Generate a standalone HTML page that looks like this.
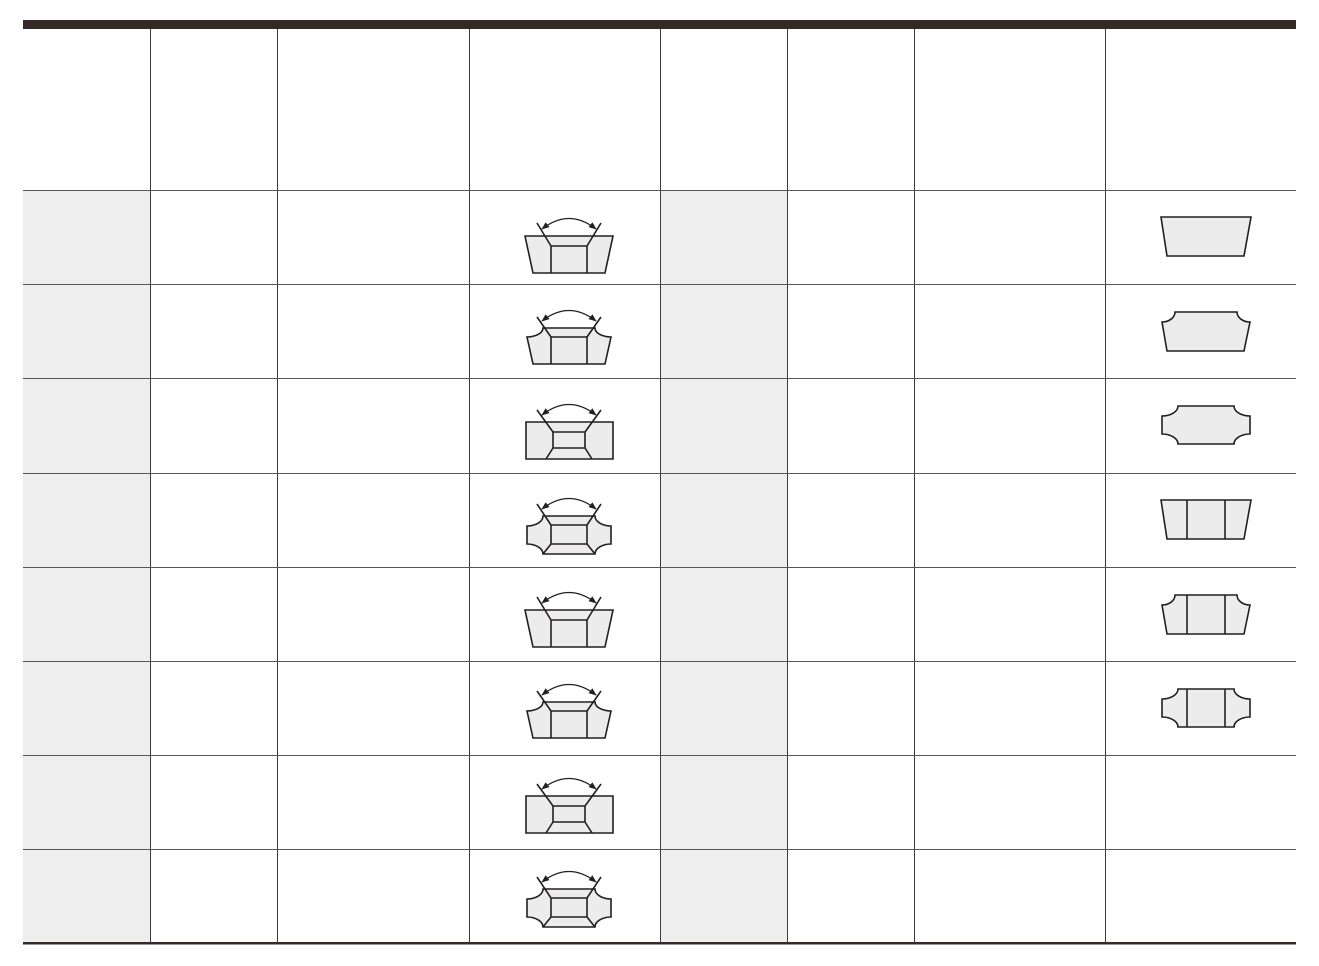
<!DOCTYPE html>
<html><head><meta charset="utf-8"><style>
html,body{margin:0;padding:0;background:#fff;width:1319px;height:966px;overflow:hidden}
svg{display:block}
</style></head><body>
<svg id="tbl" width="1319" height="966" viewBox="0 0 1319 966" xmlns="http://www.w3.org/2000/svg">
<defs>
<marker id="ah" viewBox="0 0 10 10" refX="9" refY="5" markerWidth="8" markerHeight="6" orient="auto-start-reverse"><path d="M0,1 L10,5 L0,9 Z" fill="#231f20"/></marker>
</defs>
<g id="bg"></g>
<g id="lines"></g>
<g id="icons"></g>
</svg>
<script>
const colX=[23,150,277,469,660,787,914,1105,1296];
const rowY=[190,284,378,473,567,661,755,849,943];
const shadedCols=[0,4];
const col4Types=['A','B','C','D','A','B','C','D'];
const col8Types=['T','N','DN','TV','NV','DNV'];
const NS='http://www.w3.org/2000/svg';
const ST='#231f20',FILL='#ececec';
function el(tag,attrs,parent){const e=document.createElementNS(NS,tag);for(const k in attrs)e.setAttribute(k,attrs[k]);parent.appendChild(e);return e;}
const bg=document.getElementById('bg'),ln=document.getElementById('lines'),ic=document.getElementById('icons');
shadedCols.forEach(c=>{
  const r=el('rect',{x:colX[c],y:rowY[0],width:colX[c+1]-colX[c],height:rowY[8]-rowY[0],fill:'#eeeeee'},bg);
  
  
});
let t=el('rect',{x:23,y:20,width:1273,height:9,fill:'#332a28'},ln);


let b=el('rect',{x:23,y:942,width:1273,height:2.5,fill:'#332a28'},ln);


for(let i=1;i<colX.length-1;i++){
  const l=el('line',{x1:colX[i]+0.5,y1:29,x2:colX[i]+0.5,y2:943,stroke:'#3a3a3a','stroke-width':1},ln);
  
  
}
for(let i=0;i<rowY.length-1;i++){
  const l=el('line',{x1:23,y1:rowY[i]+0.5,x2:1296,y2:rowY[i]+0.5,stroke:'#555','stroke-width':1},ln);
  
  
}
function path(d,fill,g){return el('path',{d:d,fill:fill||'none',stroke:ST,'stroke-width':1.6,'stroke-linejoin':'miter'},g);}
function arc(T,g){
  el('path',{d:`M542,${T-7} Q569,${T-28} 596,${T-7}`,fill:'none',stroke:ST,'stroke-width':1.3,'marker-start':'url(#ah)','marker-end':'url(#ah)'},g);
}
function col4(type,r){
  const g=el('g',{},ic);
  
  
  const adj=r>=4?-3:0;
  const top=rowY[r];
  if(type==='A'){const T=top+46+adj,B=T+37;
    path(`M525,${T} L613,${T} L605,${B} L533,${B} Z`,FILL,g);
    path(`M551,${T+10} L587,${T+10} M551,${T+10} L551,${B} M587,${T+10} L587,${B} M551,${T+10} L537,${T-13} M587,${T+10} L601,${T-13}`,null,g);arc(T,g);}
  if(type==='B'){const T=top+44+adj,B=T+36;
    path(`M527,${T+9} A16,9 0 0 0 543,${T} L595,${T} A16,9 0 0 0 611,${T+9} L605,${B} L533,${B} Z`,FILL,g);
    path(`M551,${T+9} L587,${T+9} M551,${T+9} L551,${B} M587,${T+9} L587,${B} M551,${T+9} L537,${T-11} M587,${T+9} L601,${T-11}`,null,g);arc(T,g);}
  if(type==='C'){const T=top+44+adj,B=T+37;
    path(`M526,${T} L613,${T} L613,${B} L526,${B} Z`,FILL,g);
    path(`M553,${T+10} L585,${T+10} L585,${T+26} L553,${T+26} Z M553,${T+10} L537,${T-12} M585,${T+10} L601,${T-12} M553,${T+26} L546,${B} M585,${T+26} L592,${B}`,null,g);arc(T,g);}
  if(type==='D'){const T=top+43+adj,B=T+38;
    path(`M527,${T+10} A16,10 0 0 0 543,${T} L595,${T} A16,10 0 0 0 611,${T+10} L611,${T+28} A16,10 0 0 0 595,${B} L543,${B} A16,10 0 0 0 527,${T+28} Z`,FILL,g);
    path(`M551,${T+9} L587,${T+9} L587,${T+28} L551,${T+28} Z M551,${T+9} L537,${T-12} M587,${T+9} L601,${T-12} M551,${T+28} L543,${B} M587,${T+28} L595,${B}`,null,g);arc(T,g);}
}
function col8(type,r){
  const g=el('g',{},ic);
  
  
  const top=rowY[r];
  const v=type.endsWith('V');const base=v?type.slice(0,-1):type;
  let T,B;
  if(base==='T'){T=top+27;B=T+39;path(`M1161,${T} L1251,${T} L1244,${B} L1167,${B} Z`,FILL,g);}
  if(base==='N'){T=top+28;B=T+39;path(`M1162,${T+10} A13,10 0 0 0 1175,${T} L1237,${T} A13,10 0 0 0 1250,${T+10} L1244,${B} L1167,${B} Z`,FILL,g);}
  if(base==='DN'){T=top+28;B=T+38;path(`M1162,${T+10} A16,10 0 0 0 1178,${T} L1234,${T} A16,10 0 0 0 1250,${T+10} L1250,${T+28} A16,10 0 0 0 1234,${B} L1178,${B} A16,10 0 0 0 1162,${T+28} Z`,FILL,g);}
  if(v)path(`M1187,${T} L1187,${B} M1225,${T} L1225,${B}`,null,g);
}
col4Types.forEach((tp,i)=>col4(tp,i));
col8Types.forEach((tp,i)=>col8(tp,i));
</script>
</body></html>
